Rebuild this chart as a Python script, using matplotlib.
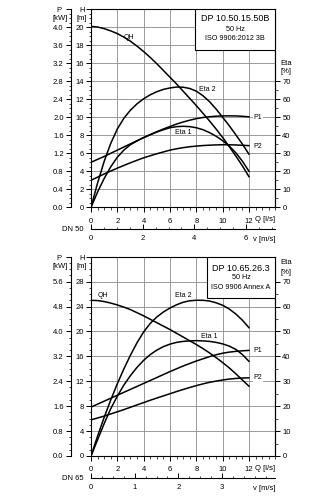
import numpy as np
import matplotlib
matplotlib.use("Agg")
import matplotlib.pyplot as plt
from matplotlib.ticker import MultipleLocator, FixedLocator

plt.rcParams['font.family'] = ['Liberation Sans', 'DejaVu Sans']

q_read = [0, 0.5, 1, 1.5, 2, 2.5, 3, 3.5, 4, 4.5, 5, 5.5, 6, 6.5, 7, 7.5, 8, 8.5, 9, 9.5, 10, 10.5, 11, 11.5, 12]

# ---------------- data: top pump DP 10.50.15.50B ----------------
qh_top = [20.1, 20.03, 19.85, 19.6, 19.3, 18.9, 18.45, 17.9, 17.3, 16.65, 15.95, 15.2, 14.45,
          13.7, 12.9, 12.1, 11.3, 10.45, 9.6, 8.7, 7.75, 6.75, 5.7, 4.6, 3.4]
eta2_top = [0, 13.5, 25.5, 35.5, 43.5, 49.5, 54, 57.5, 60.3, 62.5, 64.2, 65.5, 66.3,
            66.8, 66.7, 66, 64.5, 62, 58.7, 54.6, 50, 45.3, 40.3, 35.1, 29.5]
eta1_top = [0, 8.5, 16, 22.5, 27.8, 31.8, 34.8, 36.9, 38.7, 40.3, 41.8, 43.1, 44.2,
            44.8, 45, 44.8, 44.2, 43.1, 41.5, 39.5, 37, 34, 30.3, 25.6, 20]
p1_top = [1.0, 1.065, 1.13, 1.2, 1.27, 1.34, 1.41, 1.48, 1.55, 1.615, 1.68, 1.74, 1.795,
          1.85, 1.895, 1.935, 1.97, 1.995, 2.012, 2.024, 2.03, 2.032, 2.03, 2.022, 2.01]
p2_top = [0.6, 0.67, 0.74, 0.805, 0.87, 0.93, 0.99, 1.045, 1.1, 1.145, 1.19, 1.23, 1.27,
          1.3, 1.325, 1.345, 1.36, 1.372, 1.38, 1.386, 1.39, 1.389, 1.385, 1.378, 1.37]

# ---------------- data: bottom pump DP 10.65.26.3 ----------------
qh_bot = [25.0, 24.95, 24.8, 24.55, 24.25, 23.9, 23.5, 23.0, 22.5, 21.95, 21.4, 20.85, 20.3,
          19.7, 19.1, 18.5, 17.9, 17.25, 16.55, 15.8, 15.0, 14.15, 13.2, 12.2, 11.2]
eta2_bot = [0, 8, 15.5, 22.5, 29, 35, 40.5, 45.5, 49.8, 53.2, 55.8, 57.8, 59.4,
            60.7, 61.7, 62.3, 62.5, 62.5, 62.2, 61.5, 60.5, 59, 57, 54.5, 51.5]
eta1_bot = [0, 6.5, 13, 19, 24, 28.5, 32.3, 35.6, 38.4, 40.7, 42.5, 43.9, 44.9,
            45.6, 46, 46.2, 46.3, 46.2, 46, 45.6, 45, 44.1, 42.8, 40.7, 38]
p1_bot = [1.57, 1.665, 1.76, 1.855, 1.95, 2.045, 2.14, 2.235, 2.33, 2.425, 2.52, 2.615, 2.71,
          2.8, 2.89, 2.97, 3.05, 3.12, 3.19, 3.25, 3.3, 3.335, 3.36, 3.378, 3.39]
p2_bot = [1.16, 1.22, 1.28, 1.35, 1.42, 1.49, 1.565, 1.64, 1.715, 1.79, 1.86, 1.93, 2.0,
          2.07, 2.135, 2.2, 2.26, 2.315, 2.365, 2.405, 2.44, 2.47, 2.49, 2.503, 2.51]

q_ticks = [0, 2, 4, 6, 8, 10, 12]

charts = [
    dict(pos=[0.28, 0.5846, 0.5671, 0.3968], hmax=22, hstep=2, hminor=0.5,
         pfac=5.0, pstep=0.4, pminor=0.1, efac=5.0, eminor=5,
         qh=qh_top, eta2=eta2_top, eta1=eta1_top, p1=p1_top, p2=p2_top,
         dn=0.050, dn_label="DN 50", vticks=[0, 2, 4, 6], vminor=0.5,
         title="DP 10.50.15.50B", sub1="50 Hz", sub2="ISO 9906:2012 3B",
         box=(0.564, 0.794), ty=(0.951, 0.900, 0.851),
         lab=dict(QH=(2.88, 18.86), E2=(8.87, 13.1), E1=(6.97, 8.34), P1=(12.35, 10.0), P2=(12.35, 6.8)),
         eta_lab=(16.0, 15.1)),
    dict(pos=[0.28, 0.0862, 0.5671, 0.3994], hmax=32, hstep=4, hminor=1,
         pfac=5.0, pstep=0.8, pminor=0.2, efac=2.5, eminor=5,
         qh=qh_bot, eta2=eta2_bot, eta1=eta1_bot, p1=p1_bot, p2=p2_bot,
         dn=0.065, dn_label="DN 65", vticks=[0, 1, 2, 3], vminor=0.25,
         title="DP 10.65.26.3", sub1="50 Hz", sub2="ISO 9906 Annex A",
         box=(0.628, 0.791), ty=(0.942, 0.896, 0.844),
         lab=dict(QH=(0.93, 25.7), E2=(7.0, 25.7), E1=(8.97, 19.2), P1=(12.35, 17.0), P2=(12.35, 12.55)),
         eta_lab=(31.1, 29.5)),
]

fig = plt.figure(figsize=(3.25, 4.99), dpi=100)
fs_tick = 5.5
lw = 1.1
gcol = '#8a8a8a'

for c in charts:
    ax = fig.add_axes(c['pos'])
    ax.set_xlim(0, 14)
    ax.set_ylim(0, c['hmax'])
    pf = c['pfac']
    ef = c['efac']

    # grid / H axis
    ht = np.arange(0, c['hmax'] + 0.01, c['hstep'])
    ax.set_xticks(q_ticks)
    ax.set_yticks(ht)
    ax.grid(True, color=gcol, lw=0.6, zorder=0)
    ax.set_axisbelow(True)
    ax.set_yticklabels([("%d" % v if v < c['hmax'] else "") for v in ht])
    ax.yaxis.set_minor_locator(MultipleLocator(c['hminor']))
    ax.xaxis.set_minor_locator(MultipleLocator(0.5))
    ax.tick_params(axis='both', which='major', labelsize=fs_tick, length=3.5, width=0.7, pad=1.5)
    ax.tick_params(axis='both', which='minor', length=1.8, width=0.5)
    ax.tick_params(axis='x', which='major', pad=4)
    for s in ax.spines.values():
        s.set_linewidth(0.8)

    # curves (H in m, Eta in %, P in kW mapped onto the H scale)
    q = np.array(q_read)
    ax.plot(q, c['qh'], color='black', lw=lw, zorder=3)
    ax.plot(q, np.array(c['eta2']) / ef, color='black', lw=lw, zorder=3)
    ax.plot(q, np.array(c['eta1']) / ef, color='black', lw=lw, zorder=3)
    ax.plot(q, np.array(c['p1']) * pf, color='black', lw=lw, zorder=3)
    ax.plot(q, np.array(c['p2']) * pf, color='black', lw=lw, zorder=3)

    fl = 5
    L = c['lab']
    ax.text(*L['QH'], "QH", fontsize=fl, ha='center', va='center', zorder=4)
    ax.text(*L['E2'], "Eta 2", fontsize=fl, ha='center', va='center', zorder=4)
    ax.text(*L['E1'], "Eta 1", fontsize=fl, ha='center', va='center', zorder=4)
    ax.text(*L['P1'], "P1", fontsize=fl, ha='left', va='center', zorder=4,
            bbox=dict(facecolor='white', edgecolor='none', pad=0.3))
    ax.text(*L['P2'], "P2", fontsize=fl, ha='left', va='center', zorder=4,
            bbox=dict(facecolor='white', edgecolor='none', pad=0.3))

    # P axis (left, offset)
    sp = ax.secondary_yaxis(-0.111, functions=(lambda h, pf=pf: h / pf, lambda p, pf=pf: p * pf))
    pt = np.arange(0, c['hmax'] / pf + 1e-6, c['pstep'])
    sp.set_yticks(pt)
    sp.set_yticklabels([("%.1f" % v if i < len(pt) - 1 else "") for i, v in enumerate(pt)])
    sp.yaxis.set_minor_locator(MultipleLocator(c['pminor']))
    sp.tick_params(which='major', labelsize=fs_tick, length=3.5, width=0.7, pad=1.5)
    sp.tick_params(which='minor', length=1.8, width=0.5)
    sp.spines['left'].set_linewidth(0.8)

    # Eta axis (right)
    se = ax.secondary_yaxis('right', functions=(lambda h, ef=ef: h * ef, lambda e, ef=ef: e / ef))
    se.set_yticks(np.arange(0, 71, 10))
    se.yaxis.set_minor_locator(FixedLocator(np.arange(0, 71, c['eminor'])))
    se.tick_params(which='major', labelsize=fs_tick, length=3.5, width=0.7, pad=1.5)
    se.tick_params(which='minor', length=1.8, width=0.5)

    # velocity axis
    k = 4.0 / (np.pi * c['dn'] ** 2) / 1000.0
    sv = ax.secondary_xaxis(-0.111, functions=(lambda qq, k=k: qq * k, lambda v, k=k: v / k))
    sv.set_xticks(c['vticks'])
    sv.xaxis.set_minor_locator(MultipleLocator(c['vminor']))
    sv.tick_params(which='major', direction='in', labelsize=fs_tick, length=3.5, width=0.7, pad=4)
    sv.tick_params(which='minor', direction='in', length=1.8, width=0.5)
    sv.spines['bottom'].set_linewidth(0.8)

    # axis texts
    ax.text(-0.038, -0.111, c['dn_label'], transform=ax.transAxes, fontsize=fs_tick, ha='right', va='center')
    ax.text(1.0, -0.165, "v [m/s]", transform=ax.transAxes, fontsize=fs_tick, ha='right', va='center')
    ax.text(1.0, -0.064, "Q [l/s]", transform=ax.transAxes, fontsize=fs_tick, ha='right', va='center')
    ax.text(-0.174, 0.993, "P", transform=ax.transAxes, fontsize=fs_tick, ha='center', va='center')
    ax.text(-0.168, 0.953, "[kW]", transform=ax.transAxes, fontsize=fs_tick, ha='center', va='center')
    ax.text(-0.05, 0.993, "H", transform=ax.transAxes, fontsize=fs_tick, ha='center', va='center')
    ax.text(-0.052, 0.953, "[m]", transform=ax.transAxes, fontsize=fs_tick, ha='center', va='center')
    ax.text(14.0 + 0.85, c['eta_lab'][0], "Eta", fontsize=fs_tick, ha='center', va='center', clip_on=False)
    ax.text(14.0 + 0.85, c['eta_lab'][1], "[%]", fontsize=fs_tick, ha='center', va='center', clip_on=False)

    # info box
    bx, by = c['box']
    ax.add_patch(plt.Rectangle((bx, by), 1 - bx, 1 - by, transform=ax.transAxes,
                               facecolor='white', edgecolor='black', lw=0.8, zorder=5))
    cx = (bx + 1) / 2
    ax.text(cx, c['ty'][0], c['title'], transform=ax.transAxes, fontsize=6.5, ha='center', va='center', zorder=6)
    ax.text(cx, c['ty'][1], c['sub1'], transform=ax.transAxes, fontsize=5.2, ha='center', va='center', zorder=6)
    ax.text(cx, c['ty'][2], c['sub2'], transform=ax.transAxes, fontsize=5.2, ha='center', va='center', zorder=6)

fig.savefig("out.png", dpi=100)
